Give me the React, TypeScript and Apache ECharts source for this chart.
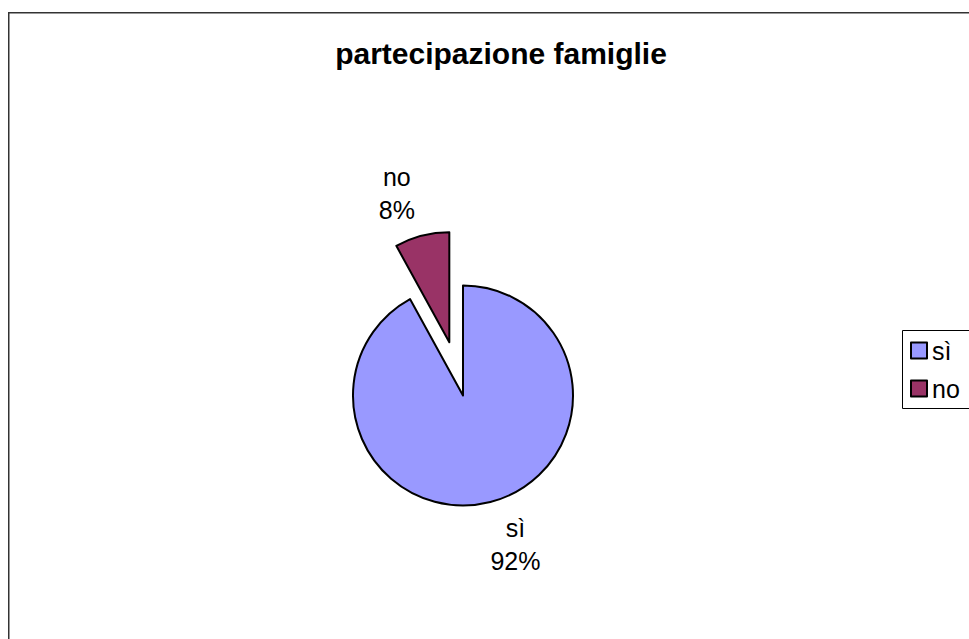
import React, { useEffect, useRef } from "react";
import * as echarts from "echarts";

const categories = ["sì", "no"];
const values = [92, 8];
const colors = ["#9999FF", "#993366"];
const explodedIndex = 1;
const titleText = "partecipazione famiglie";

const CX = 463;
const CY = 395.5;
const R = 110;
const OFFSET = 55;
const LABEL_DIST = 158;
const LABEL_ROT = -5;

export default function App() {
  const ref = useRef<HTMLDivElement>(null);
  useEffect(() => {
    if (!ref.current) return;
    const chart = echarts.init(ref.current, undefined, { renderer: "svg" });
    const total = values.reduce((a, b) => a + b, 0);
    // mid angles (degrees, clockwise from 12 o'clock)
    const mids: number[] = [];
    let acc = 0;
    values.forEach((v) => {
      const a = (v / total) * 360;
      mids.push(acc + a / 2);
      acc += a;
    });
    const dirOf = (deg: number) => {
      const r = (deg * Math.PI) / 180;
      return [Math.sin(r), -Math.cos(r)];
    };
    const centers = values.map((_, i) => {
      if (i !== explodedIndex) return [CX, CY];
      const [dx, dy] = dirOf(mids[i]);
      return [CX + dx * OFFSET, CY + dy * OFFSET];
    });
    const font = "Arial, 'Liberation Sans', Helvetica, sans-serif";
    const hidden = {
      itemStyle: { color: "transparent", borderWidth: 0 },
      label: { show: false },
    };
    const makeSeries = (visibleIdx: number) => ({
      type: "pie",
      name: categories[visibleIdx],
      center: centers[visibleIdx],
      radius: R,
      startAngle: 90,
      clockwise: true,
      selectedMode: false,
      avoidLabelOverlap: false,
      silent: true,
      emphasis: { disabled: true },
      itemStyle: { borderColor: "#000", borderWidth: 2 },
      label: {
        show: true,
        position: "outside",
        formatter: (p: any) => `${p.name}\n${Math.round(p.percent)}%`,
        fontFamily: font,
        fontSize: 25,
        lineHeight: 33,
        color: "#000",
        align: "center",
      },
      labelLine: { show: false },
      labelLayout: (params: any) => {
        const i = params.dataIndex;
        const [dx, dy] = dirOf(mids[i] + LABEL_ROT);
        const c = centers[i];
        return {
          x: c[0] + dx * LABEL_DIST,
          y: c[1] + dy * LABEL_DIST,
          align: "center",
          verticalAlign: "middle",
        };
      },
      data: categories.map((c, i) =>
        i === visibleIdx
          ? { name: c, value: values[i], itemStyle: { color: colors[i] } }
          : { name: c, value: values[i], ...hidden }
      ),
    });
    chart.setOption({
      animation: false,
      title: {
        text: titleText,
        left: 496,
        top: 33,
        textAlign: "center",
        textStyle: { fontFamily: font, fontSize: 30, fontWeight: "bold", color: "#000" },
      },
      legend: {
        orient: "vertical",
        left: 905,
        top: 333,
        padding: 5,
        icon: "rect",
        itemWidth: 16,
        itemHeight: 16,
        itemGap: 13,
        selectedMode: false,
        data: categories.map((c, i) => ({
          name: c,
          itemStyle: { color: colors[i], borderColor: "#000", borderWidth: 2 },
        })),
        textStyle: { fontFamily: font, fontSize: 25, color: "#000" },
      },
      graphic: [
        {
          type: "rect",
          shape: { x: 8.75, y: 12.75, width: 1200, height: 900 },
          style: { fill: "none", stroke: "#333", lineWidth: 1.5 },
          silent: true,
        },
        {
          type: "rect",
          shape: { x: 902.5, y: 330.5, width: 200, height: 78 },
          style: { fill: "#fff", stroke: "#000", lineWidth: 1 },
          silent: true,
          z: -1,
        },
      ],
      series: [makeSeries(0), makeSeries(1)],
    });
    return () => chart.dispose();
  }, []);
  return (
    <div
      ref={ref}
      style={{ position: "absolute", left: 0, top: 0, width: 969, height: 639, background: "#fff" }}
    />
  );
}
